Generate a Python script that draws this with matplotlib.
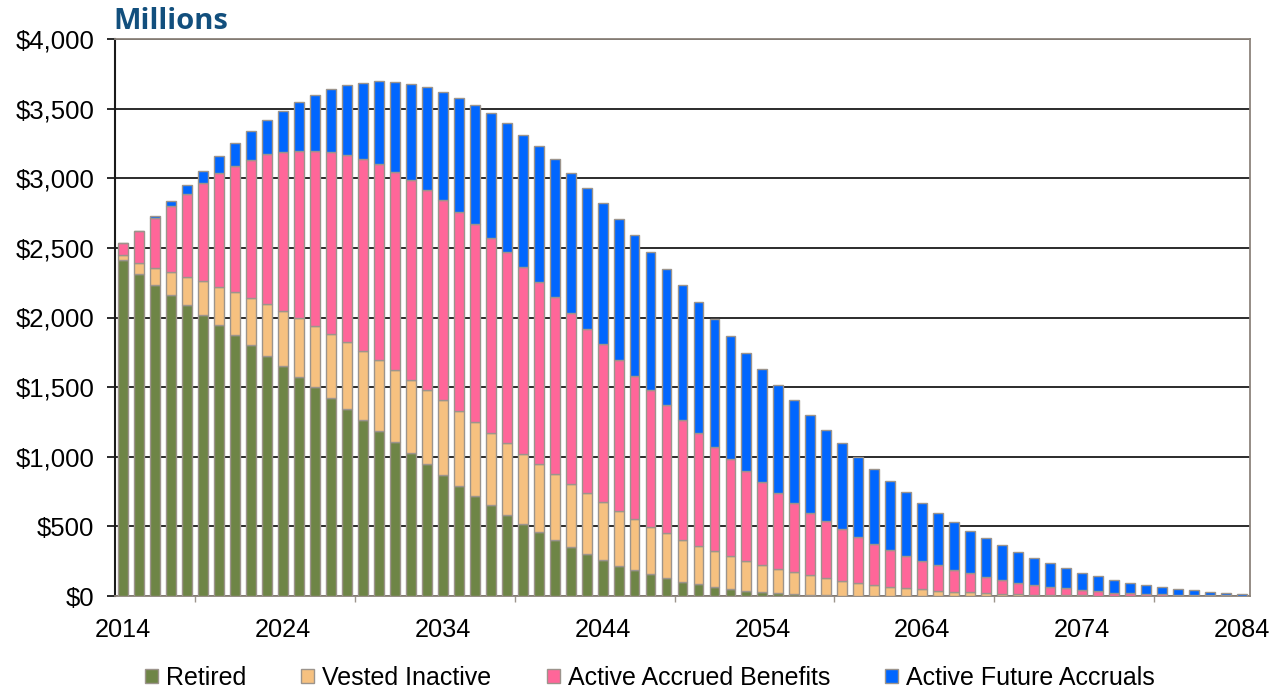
import numpy as np
import matplotlib
matplotlib.use("Agg")
import matplotlib.pyplot as plt
from matplotlib.ticker import FuncFormatter, FixedLocator

plt.rcParams['font.family'] = ['Liberation Sans', 'DejaVu Sans']

# projection years
years = np.arange(2014, 2085)

# benefit payments by member group, $ millions
retired = [2413, 2310, 2235, 2164, 2092, 2020, 1948, 1874, 1800, 1725,
           1651, 1575, 1499, 1421, 1340, 1261, 1184, 1104, 1025, 948,
           870, 792, 718, 651, 582, 519, 460, 404, 352, 302,
           259, 218, 184, 155, 127, 103, 84, 67, 53, 38,
           29, 19, 12, 7, 5, 3, 2, 1, 1, 1,
           0, 0, 0, 0, 0, 0, 0, 0, 0, 0,
           0, 0, 0, 0, 0, 0, 0, 0, 0, 0, 0]
vested_inactive = [33, 84, 120, 163, 201, 240, 273, 309, 340, 370,
                   393, 421, 440, 464, 482, 498, 508, 519, 526, 531,
                   535, 536, 534, 522, 514, 501, 488, 472, 450, 438,
                   416, 395, 367, 343, 323, 299, 277, 256, 232, 213,
                   194, 175, 158, 144, 122, 105, 94, 80, 66, 56,
                   48, 38, 31, 26, 20, 15, 11, 8, 6, 5,
                   4, 3, 2, 2, 1, 1, 1, 1, 0.5, 0.5, 0.5]
active_accrued = [91, 227, 362, 476, 591, 703, 814, 907, 991, 1077,
                  1147, 1202, 1259, 1306, 1345, 1377, 1408, 1422, 1436, 1436,
                  1439, 1432, 1417, 1400, 1374, 1345, 1309, 1269, 1230, 1180,
                  1133, 1083, 1032, 978, 919, 862, 807, 749, 696, 649,
                  593, 543, 495, 447, 409, 371, 330, 292, 263, 232,
                  206, 182, 156, 137, 118, 99, 85, 73, 61, 50,
                  39, 31, 22, 17, 13, 11, 9, 7, 5, 4, 3]
active_future = [0, 0, 14, 37, 67, 91, 127, 165, 210, 246,
                 294, 352, 400, 450, 503, 549, 595, 648, 690, 743,
                 777, 818, 857, 893, 924, 948, 974, 991, 1003, 1012,
                 1016, 1011, 1009, 994, 979, 966, 941, 915, 886, 847,
                 816, 780, 740, 702, 658, 619, 572, 539, 498, 458,
                 416, 378, 344, 306, 278, 251, 222, 194, 168, 146,
                 124, 107, 93, 77, 65, 53, 43, 33, 23, 19, 13]

series = [
    ('Retired', retired, '#6E8546'),
    ('Vested Inactive', vested_inactive, '#F6C180'),
    ('Active Accrued Benefits', active_accrued, '#FF6699'),
    ('Active Future Accruals', active_future, '#0066FF'),
]

fig = plt.figure(figsize=(12.82, 6.91), dpi=100)
ax = fig.add_axes([115 / 1282, 1 - 596 / 691, 1135 / 1282, 557 / 691])

x = np.arange(len(years))
bottom = np.zeros(len(years))
for name, vals, color in series:
    vals = np.asarray(vals, dtype=float)
    ax.bar(x, vals, width=0.62, bottom=bottom, color=color,
           edgecolor='#9C948C', linewidth=1.0, label=name, zorder=3)
    bottom += vals

ax.set_xlim(-0.5, len(years) - 0.5)
ax.set_ylim(0, 4000)

# y axis: dollar labels, black gridlines
ax.set_yticks(np.arange(0, 4001, 500))
ax.yaxis.set_major_formatter(FuncFormatter(lambda v, p: '${:,.0f}'.format(v)))
ax.yaxis.grid(True, color='#1A1A1A', linewidth=1.3, zorder=0)
ax.tick_params(axis='y', direction='out', length=6, width=1.3,
               color='#1A1A1A', labelsize=18.5, pad=9)

# x axis: year label under every tenth bar, small ticks at the gaps between
label_pos = np.arange(0, len(years), 10)
ax.xaxis.set_major_locator(FixedLocator(label_pos))
ax.set_xticklabels([str(years[p]) for p in label_pos])
ax.xaxis.set_minor_locator(FixedLocator(np.arange(5, len(years), 10) - 0.5))
ax.tick_params(axis='x', which='major', length=0, labelsize=18.2, pad=16)
ax.tick_params(axis='x', which='minor', direction='out', length=4,
               width=1.0, color='#9C948C')

for side in ['top', 'right', 'bottom']:
    ax.spines[side].set_color('#8C847C')
    ax.spines[side].set_linewidth(1.3)
ax.spines['left'].set_color('#1A1A1A')
ax.spines['left'].set_linewidth(1.5)
ax.set_axisbelow(True)

fig.text(113 / 1282, 1 - 29 / 691, 'Millions', family='Open Sans',
         fontweight='bold', fontsize=21, color='#124F7D', va='baseline')

ax.legend(loc='center', bbox_to_anchor=(650 / 1282, 1 - 678 / 691),
          bbox_transform=fig.transFigure, ncol=4, frameon=False,
          fontsize=18, handlelength=0.52, handleheight=0.52,
          handletextpad=0.32, columnspacing=2.2, borderaxespad=0)

fig.savefig('out.png', dpi=100)
